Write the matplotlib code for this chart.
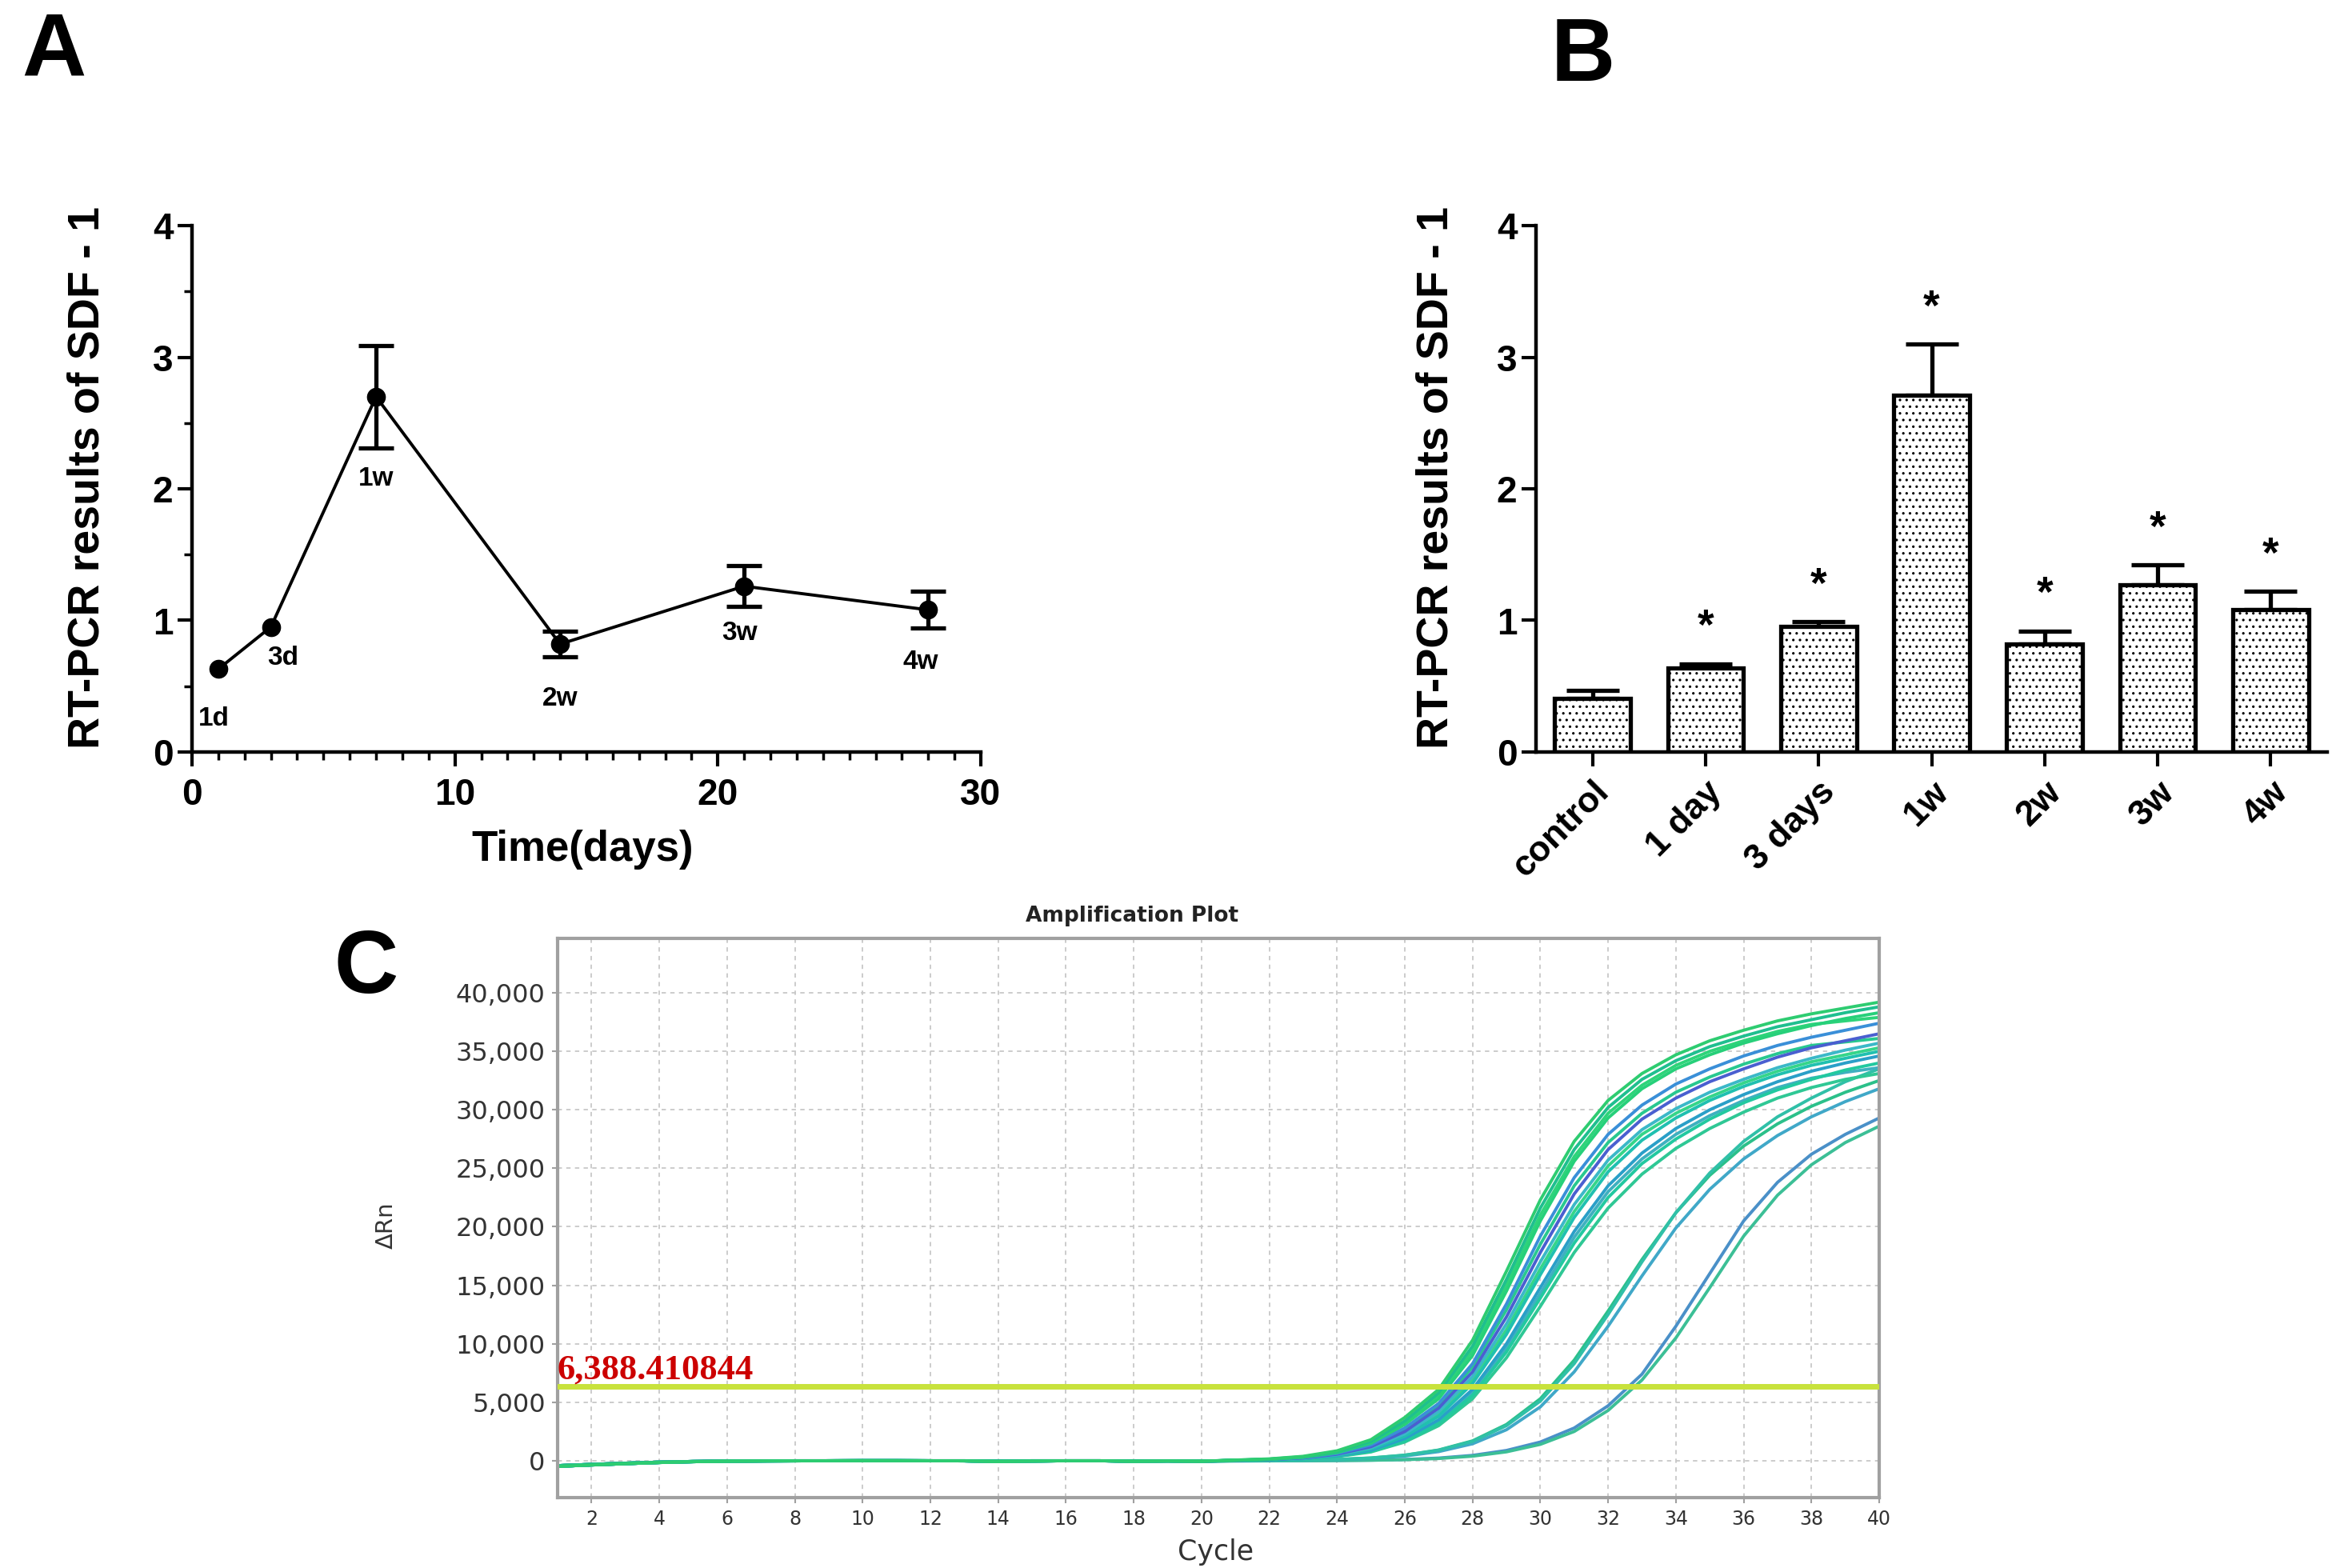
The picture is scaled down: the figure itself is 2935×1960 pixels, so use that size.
import matplotlib.pyplot as plt
from matplotlib.ticker import MultipleLocator, FuncFormatter

W, H = 2935, 1960

# ---- panel A: time course ----
days = [1, 3, 7, 14, 21, 28]
time_labels = ['1d', '3d', '1w', '2w', '3w', '4w']
a_mean = [0.63, 0.95, 2.70, 0.82, 1.26, 1.08]
a_err = [0.02, 0.02, 0.39, 0.095, 0.155, 0.14]
a_show_err = [False, False, True, True, True, True]

# ---- panel B: bars ----
groups = ['control', '1 day', '3 days', '1w', '2w', '3w', '4w']
b_mean = [0.41, 0.64, 0.955, 2.71, 0.82, 1.27, 1.08]
b_err = [0.06, 0.03, 0.035, 0.39, 0.10, 0.15, 0.14]
b_star = [False, True, True, True, True, True, True]

# ---- panel C: amplification curves ----
cycles = list(range(1, 41))
threshold = 6388.410844
# cycles 1-20 (baseline)
base_a = [-480, -360, -250, -150, -80, -40, -20, -10, 0, 0, 0, 0, -10, -70, -30, 0, 0, -50, -20, -40]
base_b = [-420, -310, -210, -120, -60, -30, -10, 0, 0, 10, 10, 0, 0, -20, 0, 0, 0, -20, -10, -40]
# cycles 21-40
e1 = [60, 160, 380, 850, 1800, 3700, 6100, 10300, 16200, 22300, 27300, 30800, 33100, 34700, 35900, 36800, 37600, 38200, 38700, 39200]
e2 = [50, 140, 340, 780, 1650, 3400, 5800, 9800, 15500, 21600, 26600, 30200, 32600, 34200, 35400, 36300, 37100, 37700, 38300, 38800]
e3 = [40, 120, 300, 700, 1500, 3100, 5300, 9000, 14500, 20500, 25600, 29300, 31800, 33500, 34700, 35700, 36500, 37200, 37800, 38300]
e4 = [40, 110, 270, 620, 1350, 2800, 4900, 8300, 13400, 19200, 24200, 27900, 30400, 32200, 33500, 34600, 35500, 36200, 36800, 37400]
e5 = [30, 100, 240, 560, 1200, 2500, 4500, 7600, 12300, 17800, 22800, 26600, 29200, 31000, 32400, 33500, 34500, 35300, 35900, 36500]
e6 = [30, 90, 220, 520, 1100, 2300, 4200, 7200, 11700, 17000, 21900, 25700, 28300, 30100, 31500, 32600, 33600, 34400, 35100, 35700]
e7 = [30, 80, 200, 470, 1000, 2100, 3800, 6600, 10800, 15900, 20800, 24700, 27400, 29300, 30800, 32000, 33000, 33800, 34400, 35000]
e8 = [20, 70, 180, 420, 900, 1900, 3500, 6100, 10000, 14800, 19600, 23500, 26300, 28400, 30000, 31300, 32400, 33300, 34000, 34600]
e9 = [20, 60, 160, 380, 800, 1700, 3200, 5600, 9300, 13900, 18600, 22500, 25400, 27500, 29200, 30600, 31700, 32600, 33400, 34000]
e10 = [20, 60, 150, 350, 750, 1600, 3000, 5300, 8800, 13200, 17800, 21600, 24500, 26700, 28400, 29800, 31000, 31900, 32600, 33100]
e11 = [40, 130, 320, 740, 1580, 3250, 5600, 9400, 15000, 21000, 26000, 29700, 32100, 33800, 35000, 35900, 36700, 37300, 37600, 37900]
e12 = [30, 100, 250, 590, 1280, 2650, 4700, 8000, 12900, 18500, 23500, 27200, 29700, 31500, 32800, 33900, 34800, 35500, 35800, 36100]
e13 = [30, 85, 210, 500, 1050, 2200, 4000, 6900, 11200, 16400, 21300, 25200, 27900, 29700, 31100, 32300, 33300, 34100, 34700, 35300]
e14 = [20, 65, 170, 400, 850, 1800, 3350, 5850, 9650, 14300, 19100, 23000, 25800, 27900, 29500, 30800, 31900, 32700, 33200, 33600]
m1 = [0, 20, 50, 110, 240, 480, 920, 1700, 3100, 5300, 8600, 12800, 17200, 21200, 24400, 26900, 28800, 30300, 31500, 32500]
m2 = [0, 15, 40, 90, 200, 400, 780, 1450, 2650, 4600, 7600, 11500, 15800, 19900, 23200, 25800, 27800, 29400, 30700, 31800]
m3 = [0, 20, 50, 110, 230, 470, 900, 1650, 3000, 5100, 8300, 12500, 17000, 21200, 24600, 27300, 29400, 31000, 32400, 33500]
l1 = [-20, -10, 0, 20, 50, 110, 230, 460, 880, 1600, 2800, 4700, 7400, 11500, 16000, 20500, 23800, 26200, 27900, 29300]
l2 = [-20, -10, 0, 15, 40, 90, 190, 390, 760, 1400, 2500, 4300, 6900, 10500, 14800, 19200, 22700, 25300, 27200, 28600]

curves = [(base_a, l1, '#4a90c8'), (base_b, l2, '#3cbf96'),
          (base_a, m2, '#40a8c8'), (base_b, m1, '#2bc08a'), (base_a, m3, '#30c0a8'),
          (base_b, e14, '#3fb0c0'), (base_a, e10, '#2fc895'), (base_b, e9, '#22c9a0'),
          (base_a, e8, '#2a9fc8'), (base_b, e13, '#35d58a'), (base_a, e7, '#20c0b0'),
          (base_b, e6, '#3bb8c8'), (base_a, e12, '#28c890'), (base_b, e5, '#4a5fd0'),
          (base_a, e4, '#3a8fd8'), (base_b, e11, '#2ed47a'), (base_a, e3, '#27d07a'),
          (base_b, e2, '#1fbf8f'), (base_a, e1, '#2ecc71')]

plt.rcParams['font.family'] = ['Liberation Sans', 'DejaVu Sans']
plt.rcParams['hatch.linewidth'] = 1.1
plt.rcParams['hatch.color'] = '#333333'

fig = plt.figure(figsize=(W / 100, H / 100), dpi=100)
axA = fig.add_axes([240 / W, 1 - 940 / H, 986 / W, 658 / H])
axB = fig.add_axes([1920 / W, 1 - 940 / H, 989 / W, 658 / H])
axC = fig.add_axes([697 / W, 1 - 1872 / H, 1652 / W, 699 / H])

# ---------- A ----------
axA.errorbar(days, a_mean, yerr=a_err, errorevery=a_show_err, fmt='-o', color='black',
             lw=2.8, ms=16, elinewidth=3.8, capsize=16, capthick=3.8, clip_on=False, zorder=3)
offsets = [(-4, -45), (11, -28), (0, -74), (0, -49), (-4, -42), (-7, -47)]
for d, m, lab, off in zip(days, a_mean, time_labels, offsets):
    axA.annotate(lab, (d, m), xytext=off, textcoords='offset points',
                 ha='center', va='center', fontsize=24, fontweight='bold')
axA.set_xlim(0, 30)
axA.set_ylim(0, 4)
axA.xaxis.set_major_locator(MultipleLocator(10))
axA.xaxis.set_minor_locator(MultipleLocator(1))
axA.yaxis.set_major_locator(MultipleLocator(1))
axA.yaxis.set_minor_locator(MultipleLocator(0.5))

for ax in (axA, axB):
    ax.spines[['top', 'right']].set_visible(False)
    for s in ('left', 'bottom'):
        ax.spines[s].set_linewidth(3.2)
    ax.tick_params(which='major', length=13, width=3, labelsize=33, direction='out')
    ax.tick_params(which='minor', length=7, width=2.5, direction='out')
    ax.tick_params(axis='y', pad=4)

axA.tick_params(axis='x', pad=10)
for lab in axA.get_xticklabels() + axA.get_yticklabels():
    lab.set_fontweight('bold')

# ---------- B ----------
pos = list(range(len(groups)))
axB.errorbar(pos, b_mean, yerr=[[0] * len(b_err), b_err], fmt='none', ecolor='black',
             elinewidth=3.8, capsize=24, capthick=3.8, zorder=1)
axB.bar(pos, b_mean, width=0.67, color='white', edgecolor='black', linewidth=3.8,
        hatch='..', zorder=2)
for i, star in enumerate(b_star):
    if star:
        axB.annotate('*', (pos[i], b_mean[i] + b_err[i]), xytext=(0, 32),
                     textcoords='offset points', ha='center', va='center',
                     fontsize=38, fontweight='bold')
axB.set_xlim(-0.5, 6.5)
axB.set_ylim(0, 4)
axB.yaxis.set_major_locator(MultipleLocator(1))
axB.set_xticks(pos, groups, rotation=45, ha='right', rotation_mode='anchor')
axB.tick_params(axis='x', pad=8, labelsize=32)
for lab in axB.get_xticklabels() + axB.get_yticklabels():
    lab.set_fontweight('bold')

ylab = 'RT-PCR results of SDF - 1'
fig.text(110 / W, 1 - 597 / H, ylab, rotation=90, ha='center', va='center',
         fontsize=40, fontweight='bold')
fig.text(1795 / W, 1 - 597 / H, ylab, rotation=90, ha='center', va='center',
         fontsize=40, fontweight='bold')
fig.text(728 / W, 1 - 1062 / H, 'Time(days)', ha='center', va='center',
         fontsize=38, fontweight='bold')

# ---------- C ----------
for base, rise, col in curves:
    axC.plot(cycles, base + rise, color=col, lw=2.8, solid_joinstyle='round')
axC.axhline(threshold, color='#c8e23c', lw=5, zorder=5)
axC.text(1.0, threshold, '6,388.410844', color='#cc0000', ha='left', va='bottom',
         fontsize=32, fontweight='bold', family=['Liberation Serif', 'DejaVu Serif'], zorder=6)
axC.set_xlim(1, 40)
axC.set_ylim(-3150, 44650)
axC.set_xticks(range(2, 41, 2))
axC.set_yticks(range(0, 40001, 5000))
axC.yaxis.set_major_formatter(FuncFormatter(lambda v, p: f'{int(v):,}'))
axC.grid(True, color='#c8c8c8', lw=1.3, ls=(0, (3, 3)))
axC.set_axisbelow(True)
for s in axC.spines.values():
    s.set_color('#a0a0a0')
    s.set_linewidth(3)
axC.tick_params(length=5, width=1.5, color='#a0a0a0', labelcolor='#333333', pad=6)
for lab in axC.get_yticklabels():
    lab.set_fontsize(23)
    lab.set_family('DejaVu Sans')
for lab in axC.get_xticklabels():
    lab.set_fontsize(17)
    lab.set_family('DejaVu Sans')
fig.text(1415 / W, 1 - 1145 / H, 'Amplification Plot', ha='center', va='center',
         fontsize=19, fontweight='bold', color='#222222', family='DejaVu Sans')
fig.text(1520 / W, 1 - 1940 / H, 'Cycle', ha='center', va='center',
         fontsize=25, color='#333333', family='DejaVu Sans')
fig.text(483 / W, 1 - 1532 / H, '\u0394Rn', rotation=90, ha='center', va='center',
         fontsize=21, color='#333333', family='DejaVu Sans')

# panel letters
for letter, (px, py) in zip('ABC', [(67, 66), (1979, 72), (458, 1212)]):
    fig.text(px / W, 1 - py / H, letter, ha='center', va='center', fontsize=80,
             fontweight='bold')

fig.savefig('out.png', dpi=100)
